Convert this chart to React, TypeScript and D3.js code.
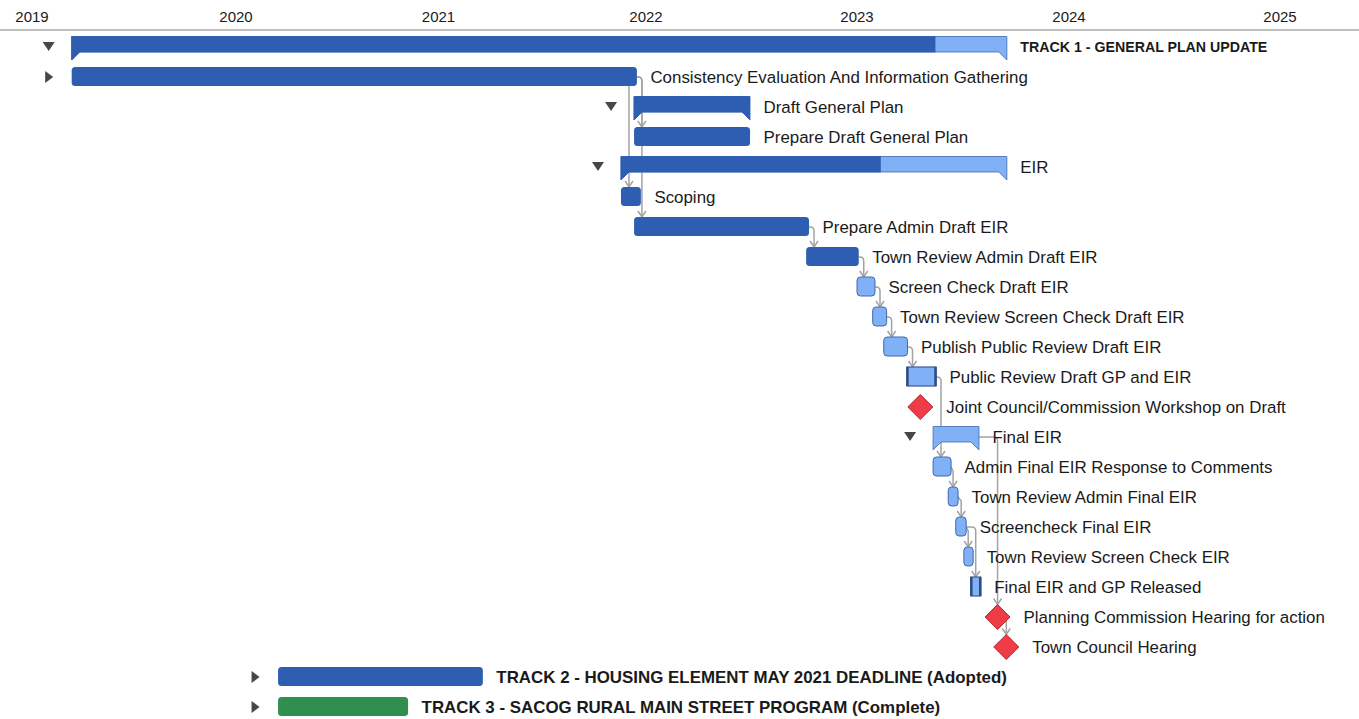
import React from 'react';
import * as d3 from 'd3';

// ---------- data ----------
const yearTicks = [2019, 2020, 2021, 2022, 2023, 2024, 2025];

const taskNames = [
  'TRACK 1 - GENERAL PLAN UPDATE',
  'Consistency Evaluation And Information Gathering',
  'Draft General Plan',
  'Prepare Draft General Plan',
  'EIR',
  'Scoping',
  'Prepare Admin Draft EIR',
  'Town Review Admin Draft EIR',
  'Screen Check Draft EIR',
  'Town Review Screen Check Draft EIR',
  'Publish Public Review Draft EIR',
  'Public Review Draft GP and EIR',
  'Joint Council/Commission Workshop on Draft',
  'Final EIR',
  'Admin Final EIR Response to Comments',
  'Town Review Admin Final EIR',
  'Screencheck Final EIR',
  'Town Review Screen Check EIR',
  'Final EIR and GP Released',
  'Planning Commission Hearing for action',
  'Town Council Hearing',
  'TRACK 2 - HOUSING ELEMENT MAY 2021 DEADLINE (Adopted)',
  'TRACK 3 - SACOG RURAL MAIN STREET PROGRAM (Complete)',
];

const taskKinds = [
  'summary', 'task', 'summary', 'task', 'summary', 'task', 'task', 'task',
  'task', 'task', 'task', 'task', 'milestone', 'summary', 'task', 'task',
  'task', 'task', 'task', 'milestone', 'milestone', 'task', 'task',
];

const taskStarts = [
  '2019-03-13', '2019-03-13', '2021-12-11', '2021-12-11', '2021-11-18', '2021-11-18',
  '2021-12-11', '2022-10-05', '2023-01-01', '2023-01-28', '2023-02-16', '2023-03-28',
  '2023-04-20', '2023-05-12', '2023-05-12', '2023-06-07', '2023-06-20', '2023-07-04',
  '2023-07-16', '2023-08-31', '2023-09-15', '2020-03-17', '2020-03-17',
];

const taskEnds = [
  '2023-09-16', '2021-12-16', '2022-06-30', '2022-06-30', '2023-09-16', '2021-12-23',
  '2022-10-10', '2023-01-04', '2023-02-01', '2023-02-21', '2023-03-29', '2023-05-17',
  '2023-04-20', '2023-07-30', '2023-06-12', '2023-06-24', '2023-07-08', '2023-07-20',
  '2023-08-02', '2023-08-31', '2023-09-15', '2021-03-20', '2020-11-07',
];

// date up to which the bar is shown as complete (null = not started)
const taskProgress = [
  '2023-05-16', '2021-12-16', '2022-06-30', '2022-06-30', '2023-02-11', '2021-12-23',
  '2022-10-10', '2023-01-04', null, null, null, null,
  null, null, null, null, null, null,
  null, null, null, '2021-03-20', '2020-11-07',
];

const taskToggles = [
  'down', 'right', 'down', null, 'down', null, null, null, null, null, null, null,
  null, 'down', null, null, null, null, null, null, null, 'right', 'right',
];

const taskStyles = [
  'track1', '', '', '', '', '', '', '', '', '', '', 'boxed',
  '', '', '', '', '', '', 'boxed', '', '', 'track', 'trackGreen',
];

const links: [number, number][] = [
  [1, 3], [1, 5], [1, 6], [6, 7], [7, 8], [8, 9], [9, 10], [10, 11],
  [11, 14], [14, 15], [15, 16], [16, 17], [16, 18], [13, 19], [19, 20],
];

// ---------- styling ----------
const W = 1359;
const H = 719;
const DARK = '#2e5eb1';
const LIGHT = '#80b1f7';
const LIGHT_STROKE = '#3f68b0';
const GREEN = '#2f8f4f';
const RED = '#f03c46';
const RED_STROKE = '#b02a30';
const LINK = '#a3a3a3';
const FONT = '"Liberation Sans", Arial, Helvetica, sans-serif';

const parse = d3.timeParse('%Y-%m-%d');

export default function App() {
  const x = d3
    .scaleTime()
    .domain(yearTicks.map((y) => new Date(y, 0, 1)))
    .range([32, 236, 438.5, 646, 857, 1069, 1280]);
  const yRow = d3.scaleLinear().domain([0, taskNames.length - 1]).range([47, 707]);

  const rows = taskNames.map((name, i) => {
    const s = parse(taskStarts[i]) as Date;
    const e = parse(taskEnds[i]) as Date;
    const p = taskProgress[i] ? (parse(taskProgress[i] as string) as Date) : null;
    return {
      i,
      name,
      kind: taskKinds[i],
      x0: x(s),
      x1: x(e),
      xp: p ? x(p) : null,
      y: yRow(i),
      toggle: taskToggles[i],
      style: taskStyles[i],
    };
  });

  const MS = 12.5; // milestone half size

  const summaryPath = (x0: number, x1: number, y: number) => {
    const top = y - 10.5;
    const bb = y + 5;
    const tb = y + 13;
    const p = d3.path();
    p.moveTo(x0, top);
    p.lineTo(x1, top);
    p.lineTo(x1, tb);
    p.lineTo(x1 - 8, bb);
    p.lineTo(x0 + 8, bb);
    p.lineTo(x0, tb);
    p.closePath();
    return p.toString();
  };

  const linkShapes = links.map(([a, b], k) => {
    const P = rows[a];
    const S = rows[b];
    const pEnd = P.kind === 'milestone' ? P.x0 + 6 : P.x1;
    const py = P.y;
    let ax: number;
    let topY: number;
    const path = d3.path();
    let drop = false;
    if (S.kind === 'milestone') {
      ax = S.x0;
      topY = S.y - MS;
    } else {
      topY = S.kind === 'summary' ? S.y - 10.5 : S.y - 10;
      if (pEnd > S.x1 - 5) {
        ax = S.x0 + 8;
        drop = true;
      } else {
        ax = Math.min(Math.max(pEnd + 5, S.x0 + 5), S.x1 - 5);
      }
    }
    if (drop) {
      path.moveTo(ax, py + 9);
      path.lineTo(ax, topY);
    } else if (ax - pEnd < 5) {
      path.moveTo(pEnd, py);
      path.lineTo(ax, py + 4);
      path.lineTo(ax, topY);
    } else {
      path.moveTo(pEnd, py);
      path.lineTo(ax - 4, py);
      path.quadraticCurveTo(ax, py, ax, py + 4);
      path.lineTo(ax, topY);
    }
    const arrow = `M${ax - 4},${topY - 6}L${ax},${topY}L${ax + 4},${topY - 6}`;
    return { k, d: path.toString(), arrow };
  });

  return (
    <svg
      width={W}
      height={H}
      style={{ position: 'absolute', left: 0, top: 0, background: '#fff' }}
      fontFamily={FONT}
    >
      <defs>
        {rows
          .filter((r) => r.kind === 'summary' && r.xp !== null)
          .map((r) => (
            <clipPath id={`prog${r.i}`} key={r.i}>
              <rect x={r.x0 - 2} y={r.y - 14} width={(r.xp as number) - r.x0 + 2} height={30} />
            </clipPath>
          ))}
      </defs>

      {/* timeline header */}
      {yearTicks.map((yr) => (
        <text key={yr} x={x(new Date(yr, 0, 1))} y={22} textAnchor="middle" fontSize={15} fill="#1a1a1a">
          {yr}
        </text>
      ))}
      <line x1={0} x2={W} y1={30} y2={30} stroke="#bdbdbd" strokeWidth={2} />

      {/* dependency links */}
      <g fill="none" stroke={LINK} strokeWidth={1.5}>
        {linkShapes.map((l) => (
          <g key={l.k}>
            <path d={l.d} />
            <path d={l.arrow} />
          </g>
        ))}
      </g>

      {/* bars */}
      {rows.map((r) => {
        if (r.kind === 'summary') {
          const d = summaryPath(r.x0, r.x1, r.y);
          return (
            <g key={r.i}>
              <path d={d} fill={LIGHT} stroke={LIGHT_STROKE} strokeWidth={0.8} />
              {r.xp !== null && <path d={d} fill={DARK} stroke={DARK} strokeWidth={0.8} clipPath={`url(#prog${r.i})`} />}
            </g>
          );
        }
        if (r.kind === 'milestone') {
          const c = r.x0;
          const d = `M${c},${r.y - MS}L${c + MS},${r.y}L${c},${r.y + MS}L${c - MS},${r.y}Z`;
          return <path key={r.i} d={d} fill={RED} stroke={RED_STROKE} strokeWidth={1} />;
        }
        const done = r.xp !== null;
        const top = r.y - 10;
        const h = 19;
        if (r.style === 'boxed') {
          return (
            <g key={r.i}>
              <rect x={r.x0} y={top} width={r.x1 - r.x0} height={h} fill={LIGHT} stroke="#3a5a96" strokeWidth={1.2} />
              <line x1={r.x0 + 0.5} x2={r.x0 + 0.5} y1={top} y2={top + h} stroke="#2f4c86" strokeWidth={2.5} />
              <line x1={r.x1 - 0.5} x2={r.x1 - 0.5} y1={top} y2={top + h} stroke="#2f4c86" strokeWidth={2.5} />
            </g>
          );
        }
        const fill = r.style === 'trackGreen' ? GREEN : done ? DARK : LIGHT;
        return (
          <rect
            key={r.i}
            x={r.x0}
            y={top}
            width={r.x1 - r.x0}
            height={h}
            rx={3.5}
            fill={fill}
            stroke={done ? 'none' : LIGHT_STROKE}
            strokeWidth={1}
          />
        );
      })}

      {/* toggles */}
      {rows
        .filter((r) => r.toggle)
        .map((r) => {
          const cx = r.x0 - 23;
          const d =
            r.toggle === 'down'
              ? `M${cx - 6},${r.y - 5}L${cx + 6},${r.y - 5}L${cx},${r.y + 4}Z`
              : `M${cx - 3.5},${r.y - 6}L${cx + 4.5},${r.y}L${cx - 3.5},${r.y + 6}Z`;
          return <path key={`t${r.i}`} d={d} fill="#474747" />;
        })}

      {/* labels */}
      {rows.map((r) => {
        const endX = r.kind === 'milestone' ? r.x0 + MS : r.x1;
        const isTrack1 = r.style === 'track1';
        const isTrack = r.style === 'track' || r.style === 'trackGreen';
        return (
          <text
            key={`l${r.i}`}
            x={endX + 13.5}
            y={r.y + (isTrack1 ? 5 : 6)}
            fontSize={isTrack1 ? 14.2 : isTrack ? 16.9 : 16.9}
            fontWeight={isTrack1 || isTrack ? 'bold' : 'normal'}
            fill="#1a1a1a"
          >
            {r.name}
          </text>
        );
      })}
    </svg>
  );
}
